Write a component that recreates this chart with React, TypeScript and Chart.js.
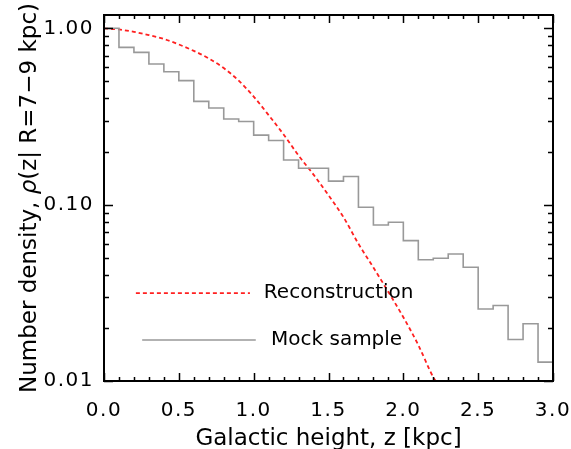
import React, { useEffect, useRef } from "react";
import { Chart, registerables } from "chart.js";

Chart.register(...registerables);

// ---- data ----
const BIN_WIDTH = 0.1;
const HIST_VALUES = [
  1.0, 0.78, 0.73, 0.627, 0.567, 0.505, 0.385, 0.353, 0.306, 0.296,
  0.248, 0.231, 0.179, 0.161, 0.161, 0.136, 0.1445, 0.0966, 0.0767, 0.0795,
  0.0625, 0.0487, 0.0497, 0.0525, 0.0442, 0.0256, 0.0268, 0.0172, 0.0211, 0.0128,
];
const RECON_Z = [
  0, 0.1, 0.2, 0.3, 0.4, 0.5, 0.6, 0.7, 0.8, 0.9, 1.0, 1.1,
  1.2, 1.3, 1.4, 1.5, 1.6, 1.7, 1.8, 1.9, 2.0, 2.1, 2.2, 2.23,
];
const RECON_RHO = [
  1.0, 0.985, 0.955, 0.915, 0.87, 0.81, 0.745, 0.675, 0.595, 0.505, 0.41, 0.322,
  0.25, 0.19, 0.148, 0.113, 0.085, 0.06, 0.044, 0.032, 0.023, 0.016, 0.0105, 0.0096,
];
const X_TICKS = [0, 0.5, 1.0, 1.5, 2.0, 2.5, 3.0];
const X_MINOR_STEP = 0.1;
const X_RANGE = [0, 3];
const Y_TICKS = [0.01, 0.1, 1];
const Y_RANGE = [0.01, 1.19];
const LEGEND_LABELS = ["Reconstruction", "Mock sample"];
const X_TITLE = "Galactic height, z [kpc]";
const Y_TITLE_A = "Number density, ";
const Y_TITLE_RHO = "ρ";
const Y_TITLE_B = "(z| R=7−9 kpc)";

const FONT = "'DejaVu Sans', sans-serif";
const GRAY = "#999999";
const RED = "#ff2020";

const decor = {
  id: "decor",
  beforeDraw(chart: any) {
    (chart.ctx as any).letterSpacing = "1.5px";
  },
  afterDraw(chart: any) {
    const { ctx, chartArea: a, scales } = chart;
    (ctx as any).letterSpacing = "0px";
    const xs = scales.x;
    const ys = scales.y;
    ctx.save();
    // frame
    ctx.strokeStyle = "#000";
    ctx.lineWidth = 2;
    ctx.strokeRect(a.left, a.top, a.right - a.left, a.bottom - a.top);
    // x ticks (inside, mirrored)
    ctx.lineWidth = 1.5;
    ctx.beginPath();
    const nX = Math.round((X_RANGE[1] - X_RANGE[0]) / X_MINOR_STEP);
    for (let i = 0; i <= nX; i++) {
      const v = X_RANGE[0] + i * X_MINOR_STEP;
      const px = Math.round(xs.getPixelForValue(v)) + 0.5;
      const major = X_TICKS.some((t) => Math.abs(t - v) < 1e-6);
      const L = major ? 8 : 4;
      ctx.moveTo(px, a.bottom);
      ctx.lineTo(px, a.bottom - L);
      ctx.moveTo(px, a.top);
      ctx.lineTo(px, a.top + L);
    }
    // y ticks (log, inside, mirrored)
    for (let d = Y_TICKS[0]; d < Y_RANGE[1]; d *= 10) {
      for (let m = 1; m <= 9; m++) {
        const v = d * m;
        if (v < Y_RANGE[0] - 1e-12 || v > Y_RANGE[1]) continue;
        const py = Math.round(ys.getPixelForValue(v)) + 0.5;
        const L = m === 1 ? 9 : 5;
        ctx.moveTo(a.left, py);
        ctx.lineTo(a.left + L, py);
        ctx.moveTo(a.right, py);
        ctx.lineTo(a.right - L, py);
      }
    }
    ctx.stroke();

    // legend
    const W = a.right - a.left;
    const H = a.bottom - a.top;
    const ly1 = a.top + 0.76 * H;
    const ly2 = a.top + 0.888 * H;
    ctx.lineWidth = 1.8;
    ctx.strokeStyle = RED;
    ctx.setLineDash([4, 3]);
    ctx.beginPath();
    ctx.moveTo(a.left + 0.071 * W, ly1);
    ctx.lineTo(a.left + 0.325 * W, ly1);
    ctx.stroke();
    ctx.setLineDash([]);
    ctx.lineWidth = 1.6;
    ctx.strokeStyle = GRAY;
    ctx.beginPath();
    ctx.moveTo(a.left + 0.085 * W, ly2);
    ctx.lineTo(a.left + 0.338 * W, ly2);
    ctx.stroke();
    ctx.fillStyle = "#000";
    ctx.font = `20px ${FONT}`;
    ctx.textBaseline = "middle";
    ctx.textAlign = "left";
    ctx.fillText(LEGEND_LABELS[0], a.left + 0.356 * W, ly1);
    ctx.fillText(LEGEND_LABELS[1], a.left + 0.372 * W, ly2);

    // x title
    ctx.font = `23px ${FONT}`;
    ctx.textAlign = "center";
    ctx.textBaseline = "alphabetic";
    ctx.fillText(X_TITLE, (a.left + a.right) / 2, 445);

    // y title (rotated, italic rho)
    const fA = `23px ${FONT}`;
    const fR = `italic 23px ${FONT}`;
    ctx.font = fA;
    const wA = ctx.measureText(Y_TITLE_A).width;
    const wB = ctx.measureText(Y_TITLE_B).width;
    ctx.font = fR;
    const wR = ctx.measureText(Y_TITLE_RHO).width;
    const total = wA + wR + wB;
    ctx.translate(36, (a.top + a.bottom) / 2);
    ctx.rotate(-Math.PI / 2);
    ctx.textAlign = "left";
    let cx = -total / 2;
    ctx.font = fA;
    ctx.fillText(Y_TITLE_A, cx, 0);
    cx += wA;
    ctx.font = fR;
    ctx.fillText(Y_TITLE_RHO, cx, 0);
    cx += wR;
    ctx.font = fA;
    ctx.fillText(Y_TITLE_B, cx, 0);
    ctx.restore();
  },
};

export default function App() {
  const ref = useRef<HTMLCanvasElement | null>(null);
  useEffect(() => {
    if (!ref.current) return;
    const histPoints = HIST_VALUES.map((v, i) => ({ x: i * BIN_WIDTH, y: v }));
    histPoints.push({ x: HIST_VALUES.length * BIN_WIDTH, y: HIST_VALUES[HIST_VALUES.length - 1] });
    const reconPoints = RECON_Z.map((z, i) => ({ x: z, y: RECON_RHO[i] }));
    const chart = new Chart(ref.current, {
      type: "line",
      data: {
        datasets: [
          {
            label: "Mock sample",
            data: histPoints,
            stepped: "before",
            borderColor: GRAY,
            borderWidth: 1.6,
            pointRadius: 0,
            fill: false,
            clip: 0,
          } as any,
          {
            label: "Reconstruction",
            data: reconPoints,
            borderColor: RED,
            borderWidth: 1.8,
            borderDash: [4, 3],
            pointRadius: 0,
            cubicInterpolationMode: "monotone",
            fill: false,
            clip: 0,
          } as any,
        ],
      },
      options: {
        animation: false,
        responsive: false,
        devicePixelRatio: 1,
        layout: { padding: { left: 0, right: 18, top: 15, bottom: 0 } },
        plugins: { legend: { display: false }, tooltip: { enabled: false }, title: { display: false } },
        scales: {
          x: {
            type: "linear",
            min: X_RANGE[0],
            max: X_RANGE[1],
            grid: { display: false, drawTicks: false },
            border: { display: false },
            afterBuildTicks: (s: any) => {
              s.ticks = X_TICKS.map((v) => ({ value: v }));
            },
            afterFit: (s: any) => {
              s.height = 68;
              s.paddingLeft = 0;
              s.paddingRight = 0;
              s.paddingTop = 0;
              s.paddingBottom = 0;
            },
            ticks: {
              autoSkip: false,
              maxRotation: 0,
              padding: 18,
              color: "#000",
              font: { family: FONT, size: 20 },
              callback: (v: any) => Number(v).toFixed(1),
            },
          },
          y: {
            type: "logarithmic",
            min: Y_RANGE[0],
            max: Y_RANGE[1],
            grid: { display: false, drawTicks: false },
            border: { display: false },
            afterBuildTicks: (s: any) => {
              s.ticks = Y_TICKS.map((v) => ({ value: v }));
            },
            afterFit: (s: any) => {
              s.width = 104;
              s.paddingLeft = 0;
              s.paddingRight = 0;
              s.paddingTop = 0;
              s.paddingBottom = 0;
            },
            ticks: {
              autoSkip: false,
              padding: 10,
              color: "#000",
              font: { family: FONT, size: 20 },
              callback: (v: any) => Number(v).toFixed(2),
            },
          },
        },
      } as any,
      plugins: [decor],
    });
    return () => chart.destroy();
  }, []);
  return (
    <div style={{ position: "fixed", left: 0, top: 0, width: 571, height: 449, background: "#fff" }}>
      <canvas ref={ref} width={571} height={449} style={{ display: "block" }} />
    </div>
  );
}
